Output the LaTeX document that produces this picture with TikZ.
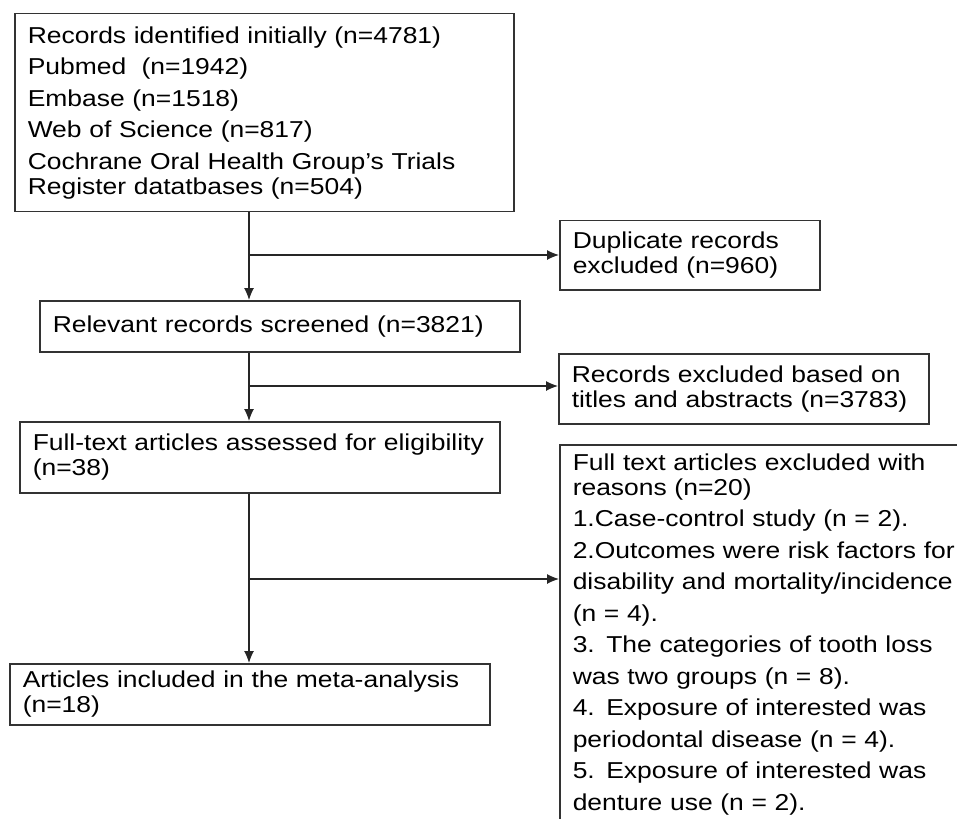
\documentclass[tikz,border=0pt]{standalone}
\usepackage{fontspec}
\setmainfont[FakeStretch=1.15]{Liberation Sans}
\usetikzlibrary{arrows.meta}
\begin{document}
\begin{tikzpicture}
[x=1pt,y=-1pt,>={Latex[length=12pt,width=10pt]},
 box/.style={draw=black!80,line width=1.5pt,anchor=north west,align=left,
   inner xsep=13pt,inner ysep=0pt,font=\fontsize{23}{25}\selectfont},
 link/.style={->,line width=1.2pt,draw=black!85}]

%%
%%%x of the main line and gap between items
\def\trunk{249}
\def\gap{6.5pt}
%%

% the frame of the picture
\useasboundingbox (0,0) rectangle (957,818);
\clip (0,0) rectangle (957,818);

% the boxes of the main line
\node[box,text width=473pt,minimum height=198pt] (ident) at (14,13)
  {Records identified initially (n=4781)\\[\gap]
   Pubmed\ \ (n=1942)\\[\gap]
   Embase (n=1518)\\[\gap]
   Web of Science (n=817)\\[\gap]
   Cochrane Oral Health Group’s Trials\\
   Register datatbases (n=504)};
\node[box,text width=454pt,minimum height=51pt] (screen) at (39,300)
  {Relevant records screened (n=3821)};
\node[box,text width=454pt,minimum height=71pt] (fulltext) at (19,421)
  {Full-text articles assessed for eligibility\\(n=38)};
\node[box,text width=454pt,minimum height=61pt] (incl) at (9,663)
  {Articles included in the meta-analysis\\(n=18)};

% the boxes of the excluded records
\node[box,text width=234pt,minimum height=69pt] (dupl) at (559,220)
  {Duplicate records\\excluded (n=960)};
\node[box,text width=344pt,minimum height=70pt] (titles) at (558,353)
  {Records excluded based on\\titles and abstracts (n=3783)};
\node[box,text width=394pt,inner ysep=9pt] (reasons) at (559,444)
  {Full text articles excluded with\\
   reasons (n=20)\\[\gap]
   1.Case-control study (n = 2).\\[\gap]
   2.Outcomes were risk factors for\\[\gap]
   disability and mortality/incidence\\[\gap]
   (n = 4).\\[\gap]
   3. The categories of tooth loss\\[\gap]
   was two groups (n = 8).\\[\gap]
   4. Exposure of interested was\\[\gap]
   periodontal disease (n = 4).\\[\gap]
   5. Exposure of interested was\\[\gap]
   denture use (n = 2).};

% the branch points
\coordinate (b1) at (\trunk,255);
\coordinate (b2) at (\trunk,386);
\coordinate (b3) at (\trunk,579);

% the arrows
\draw[link] (b1 |- ident.south) -- (b1 |- screen.north);
\draw[link] (b2 |- screen.south) -- (b2 |- fulltext.north);
\draw[link] (b3 |- fulltext.south) -- (b3 |- incl.north);
\draw[link] (b1) -- (b1 -| dupl.west);
\draw[link] (b2) -- (b2 -| titles.west);
\draw[link] (b3) -- (b3 -| reasons.west);

\end{tikzpicture}
\end{document}
